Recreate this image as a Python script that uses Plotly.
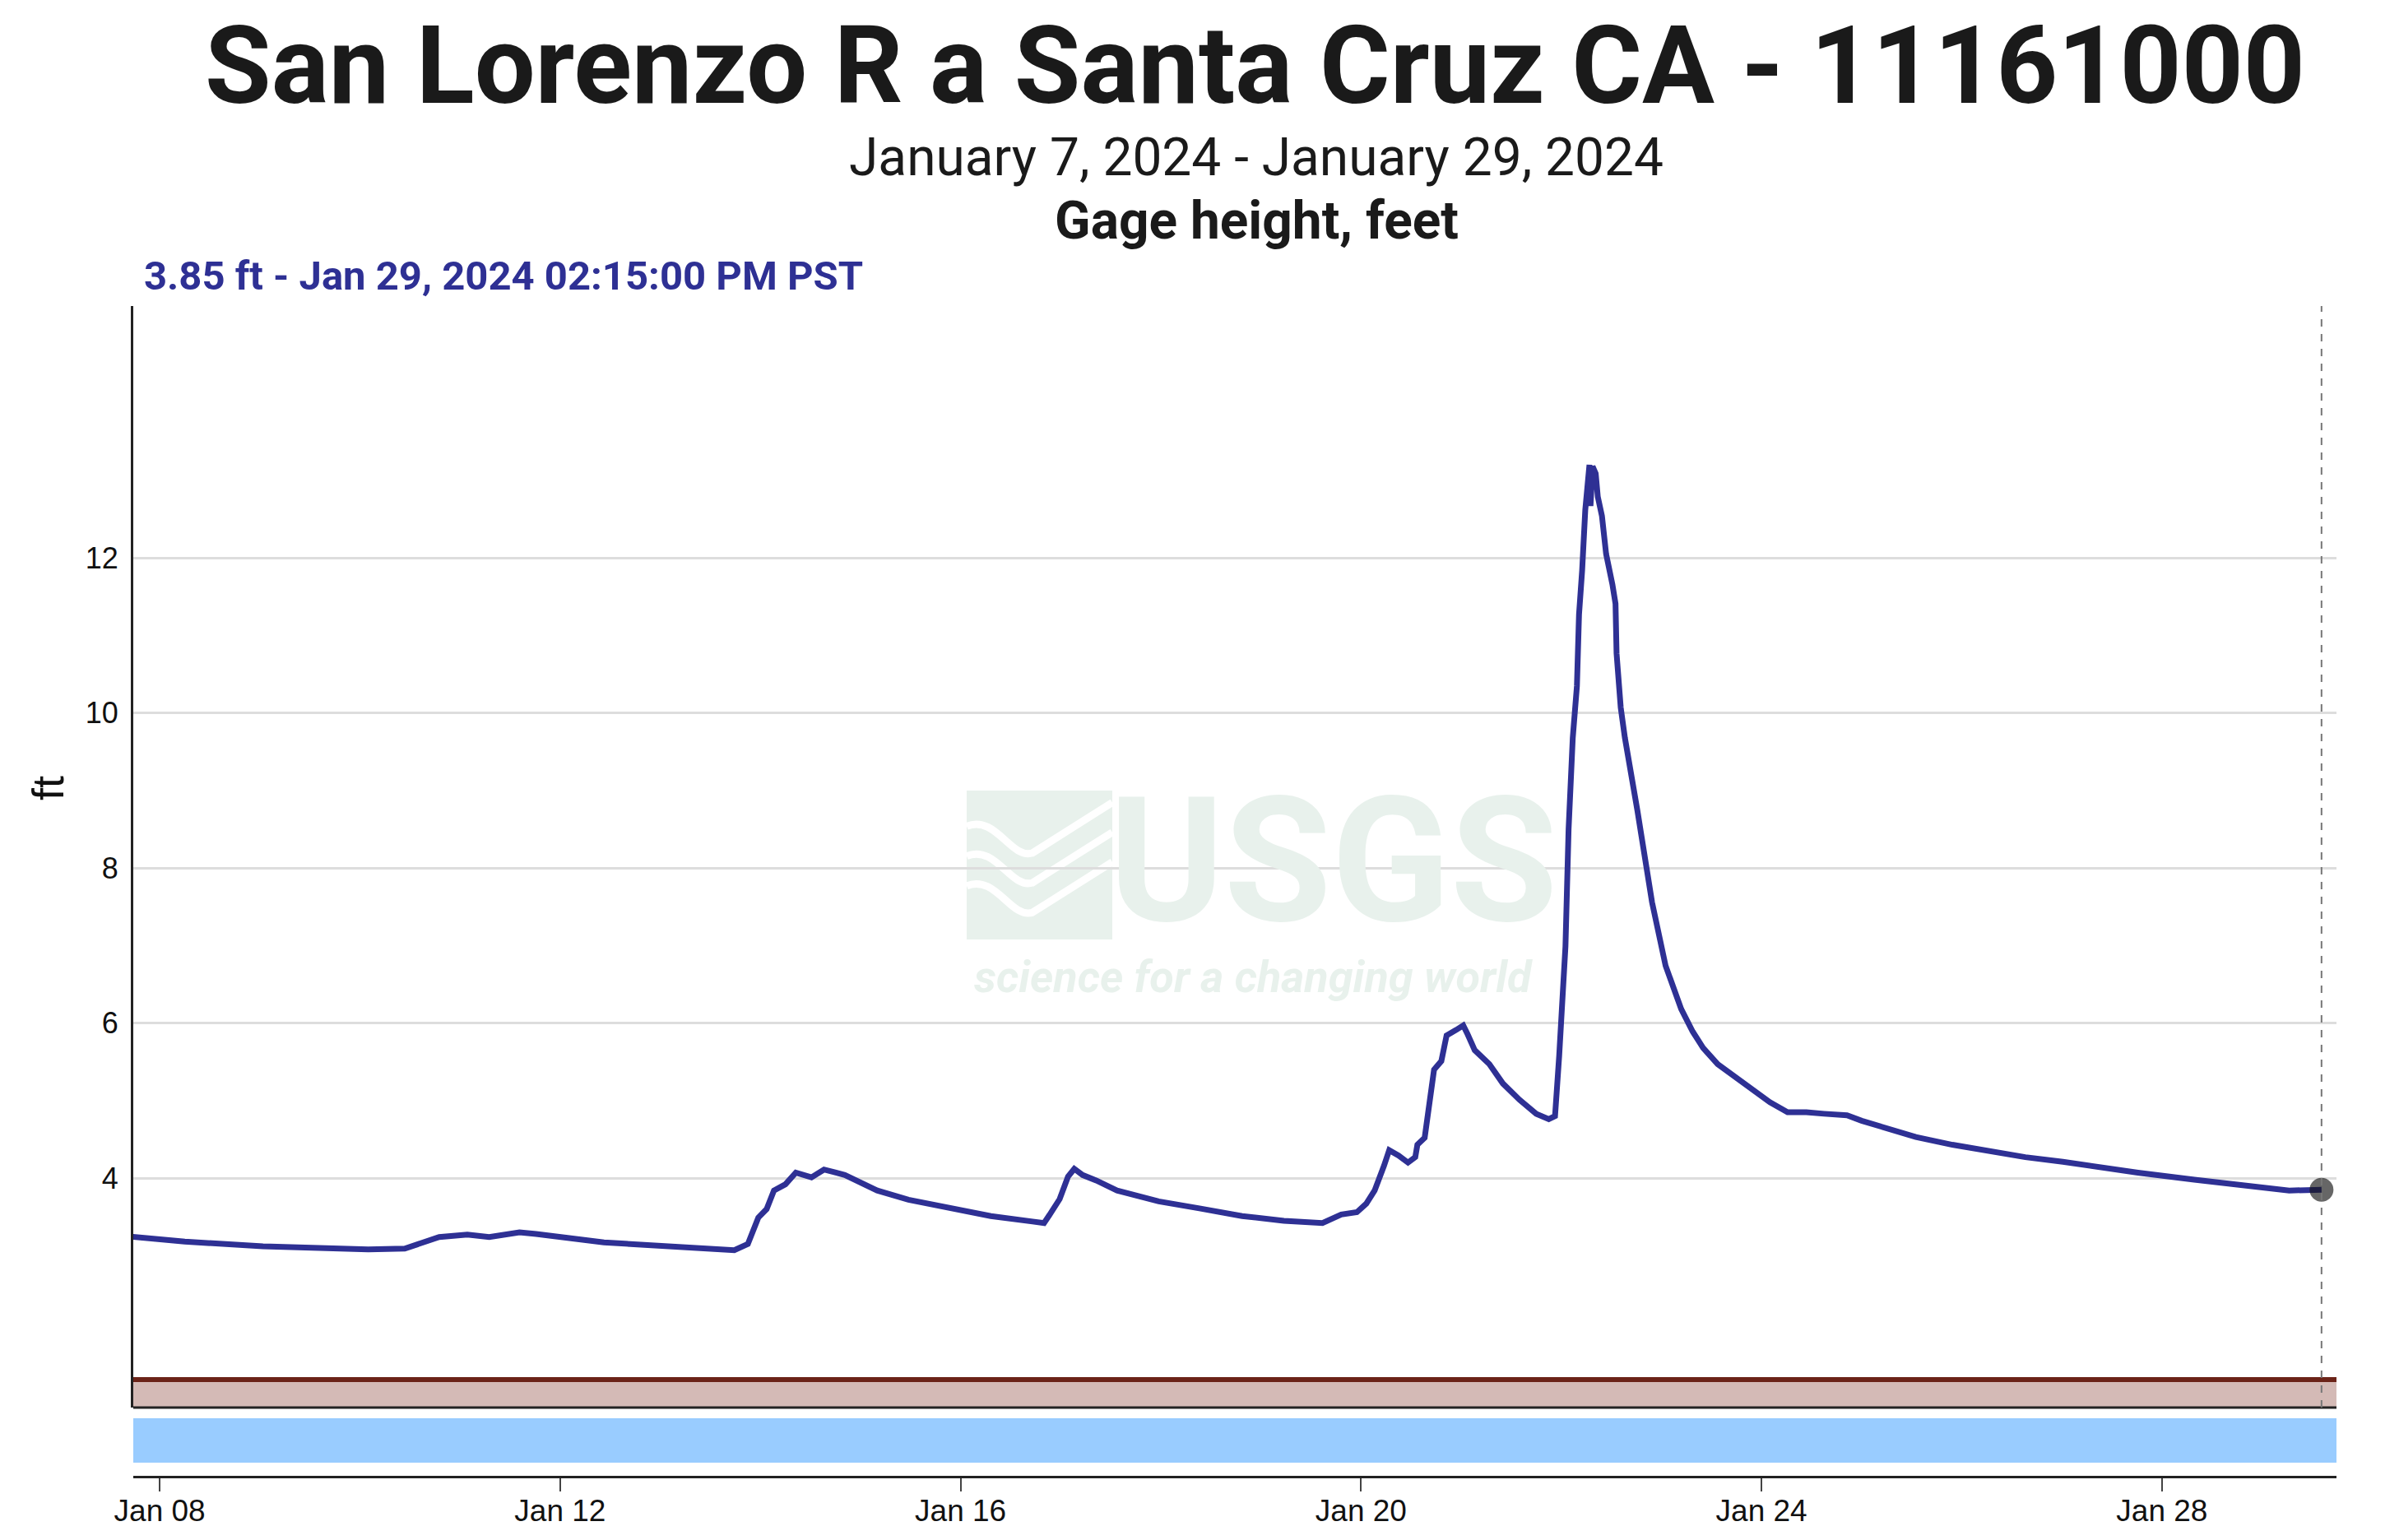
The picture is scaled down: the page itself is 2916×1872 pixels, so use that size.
import plotly.graph_objects as go

# Gage height readings (ft)
times = [
    "2024-01-07 14:15", "2024-01-08 06:00", "2024-01-09 00:45", "2024-01-09 13:15",
    "2024-01-10 02:00", "2024-01-10 10:45", "2024-01-10 15:00", "2024-01-10 19:00",
    "2024-01-11 01:45", "2024-01-11 07:00", "2024-01-11 14:15", "2024-01-11 18:15",
    "2024-01-12 10:30", "2024-01-13 05:30", "2024-01-13 17:45", "2024-01-13 21:00",
    "2024-01-13 23:30", "2024-01-14 01:30", "2024-01-14 03:15", "2024-01-14 06:00",
    "2024-01-14 08:30", "2024-01-14 12:15", "2024-01-14 15:15", "2024-01-14 20:15",
    "2024-01-15 04:00", "2024-01-15 11:30", "2024-01-15 21:00", "2024-01-16 07:15",
    "2024-01-16 17:15", "2024-01-16 20:00", "2024-01-16 21:15", "2024-01-16 23:45",
    "2024-01-17 01:45", "2024-01-17 03:15", "2024-01-17 05:15", "2024-01-17 08:30",
    "2024-01-17 13:30", "2024-01-17 23:30", "2024-01-18 09:15", "2024-01-18 19:30",
    "2024-01-19 05:30", "2024-01-19 14:45", "2024-01-19 19:15", "2024-01-19 23:00",
    "2024-01-20 01:15", "2024-01-20 03:15", "2024-01-20 05:30", "2024-01-20 06:45",
    "2024-01-20 09:00", "2024-01-20 11:15", "2024-01-20 13:00", "2024-01-20 13:30",
    "2024-01-20 15:15", "2024-01-20 16:15", "2024-01-20 17:30", "2024-01-20 19:15",
    "2024-01-20 20:30", "2024-01-20 22:45", "2024-01-21 00:30", "2024-01-21 01:30",
    "2024-01-21 03:15", "2024-01-21 06:45", "2024-01-21 10:00", "2024-01-21 14:00",
    "2024-01-21 18:00", "2024-01-21 21:00", "2024-01-21 22:30", "2024-01-21 23:30",
    "2024-01-22 00:30", "2024-01-22 01:00", "2024-01-22 01:45", "2024-01-22 02:45",
    "2024-01-22 03:45", "2024-01-22 04:15", "2024-01-22 05:00", "2024-01-22 05:45",
    "2024-01-22 06:45", "2024-01-22 07:00", "2024-01-22 07:30", "2024-01-22 08:15",
    "2024-01-22 08:45", "2024-01-22 09:45", "2024-01-22 10:45", "2024-01-22 11:45",
    "2024-01-22 12:15", "2024-01-22 13:00", "2024-01-22 13:15", "2024-01-22 14:15",
    "2024-01-22 15:15", "2024-01-22 18:15", "2024-01-22 21:45", "2024-01-23 01:00",
    "2024-01-23 02:45", "2024-01-23 04:45", "2024-01-23 07:30", "2024-01-23 10:00",
    "2024-01-23 13:30", "2024-01-23 17:00", "2024-01-23 21:30", "2024-01-24 02:00",
    "2024-01-24 06:15", "2024-01-24 10:45", "2024-01-24 15:00", "2024-01-24 20:30",
    "2024-01-25 00:00", "2024-01-25 05:00", "2024-01-25 13:00", "2024-01-25 21:45",
    "2024-01-26 06:45", "2024-01-26 15:15", "2024-01-27 00:15", "2024-01-27 09:00",
    "2024-01-27 18:15", "2024-01-28 07:45", "2024-01-28 20:45", "2024-01-29 06:30",
    "2024-01-29 14:15",
]
gage_ft = [
    3.26, 3.18, 3.12, 3.10,
    3.08, 3.09, 3.17, 3.24,
    3.27, 3.24, 3.30, 3.28,
    3.17, 3.10, 3.07, 3.15,
    3.49, 3.60, 3.84, 3.92,
    4.07, 4.01, 4.11, 4.04,
    3.84, 3.72, 3.61, 3.51,
    3.44, 3.42, 3.52, 3.73,
    4.02, 4.12, 4.04, 3.97,
    3.84, 3.70, 3.61, 3.51,
    3.45, 3.42, 3.53, 3.56,
    3.67, 3.84, 4.16, 4.36,
    4.29, 4.20, 4.27, 4.43,
    4.52, 4.94, 5.40, 5.51,
    5.84, 5.91, 5.97, 5.86,
    5.65, 5.47, 5.22, 5.01,
    4.83, 4.76, 4.80, 5.58,
    6.64, 6.99, 8.50, 9.68,
    10.35, 11.27, 11.84, 12.62,
    13.20, 12.67, 13.18, 13.09,
    12.79, 12.54, 12.05, 11.84,
    11.66, 11.41, 10.77, 10.07,
    9.68, 8.74, 7.56, 6.74,
    6.46, 6.18, 5.89, 5.68,
    5.47, 5.33, 5.15, 4.98,
    4.85, 4.85, 4.83, 4.81,
    4.74, 4.66, 4.53, 4.43,
    4.34, 4.27, 4.21, 4.14,
    4.07, 3.98, 3.90, 3.84,
    3.85,
]
last_time = "2024-01-29 14:15"
last_value = 3.85
y_ticks = [4, 6, 8, 10, 12]

LINE = "#2e3094"
WM = "#e8f1ec"

fig = go.Figure()
fig.add_trace(go.Scatter(x=times, y=gage_ft, mode="lines",
                         line=dict(color=LINE, width=7), hoverinfo="skip"))
fig.add_trace(go.Scatter(x=[last_time], y=[last_value], mode="markers",
                         marker=dict(size=29, color="rgba(20,20,20,0.65)", line=dict(width=0)),
                         hoverinfo="skip"))

# page pixel -> paper helpers (plot area on page: x 162..2840, y 372..1795)
# the page body has an 8px margin, so the figure itself is offset by 8px
def px(x):
    return (x - 162) / 2678

def py(y):
    return (1795 - y) / 1423

shapes = []
# brown band under the graph
shapes.append(dict(type="rect", xref="paper", yref="paper", x0=0, x1=1,
                   y0=py(1711), y1=py(1678), fillcolor="#d4bab6", line_width=0, layer="below"))
shapes.append(dict(type="line", xref="paper", yref="paper", x0=0, x1=1,
                   y0=py(1677), y1=py(1677), line=dict(color="#6b2318", width=6)))
shapes.append(dict(type="line", xref="paper", yref="paper", x0=0, x1=1,
                   y0=py(1711), y1=py(1711), line=dict(color="#222", width=3)))
# blue bar
shapes.append(dict(type="rect", xref="paper", yref="paper", x0=0, x1=1,
                   y0=py(1778), y1=py(1724), fillcolor="#99ccff", line_width=0))
# dashed cursor line at latest value
shapes.append(dict(type="line", xref="x", yref="paper", x0=last_time, x1=last_time,
                   y0=py(1711), y1=1, line=dict(color="#777", width=2, dash="dash")))

# USGS watermark logo box with waves
bx0, bx1, by0, by1 = px(1175), px(1352), py(961), py(1142)
shapes.append(dict(type="rect", xref="paper", yref="paper", x0=bx0, x1=bx1,
                   y0=by1, y1=by0, fillcolor=WM, line_width=0, layer="below"))

def bp(rx, ry):
    return f"{bx0 + rx * (bx1 - bx0):.5f},{by0 - ry * (by0 - by1):.5f}"

for dy in [0.0, 0.2, 0.4]:
    path = (f"M {bp(0, 0.24 + dy)} C {bp(0.2, 0.16 + dy)} {bp(0.3, 0.46 + dy)} "
            f"{bp(0.45, 0.42 + dy)} L {bp(1, 0.08 + dy)}")
    shapes.append(dict(type="path", xref="paper", yref="paper", path=path,
                       line=dict(color="white", width=9), layer="below"))

annotations = [
    dict(text="San Lorenzo R a Santa Cruz CA - 11161000", x=px(1525), y=py(80),
         font=dict(family="Roboto", size=131, color="#1a1a1a", weight="bold")),
    dict(text="January 7, 2024 - January 29, 2024", x=px(1527), y=py(192),
         font=dict(family="Roboto", size=64, color="#1a1a1a")),
    dict(text="Gage height, feet", x=px(1527), y=py(268),
         font=dict(family="Roboto", size=64, color="#1a1a1a", weight="bold")),
    dict(text="3.85 ft - Jan 29, 2024 02:15:00 PM PST", x=px(173), y=py(335), xanchor="left",
         font=dict(family="Roboto", size=49, color=LINE, weight="bold")),
    dict(text="ft", x=px(58), y=py(958), textangle=-90,
         font=dict(family="Liberation Sans", size=54, color="#111")),
    dict(text="USGS", x=px(1620), y=py(1046),
         font=dict(family="Liberation Sans Narrow, Roboto", size=212, color=WM, weight="bold")),
    dict(text="<i>science for a changing world</i>", x=px(1523), y=py(1187),
         font=dict(family="Roboto", size=54, color=WM, weight="bold")),
]
for a in annotations:
    a.update(xref="paper", yref="paper", showarrow=False)
    a.setdefault("xanchor", "center")
    a["yanchor"] = "middle"

fig.update_layout(
    width=2900, height=1856,
    margin=dict(l=154, r=68, t=364, b=69, autoexpand=False),
    paper_bgcolor="white", plot_bgcolor="white",
    showlegend=False,
    shapes=shapes, annotations=annotations,
    xaxis=dict(
        range=["2024-01-07 17:40", "2024-01-29 17:50"],
        tick0="2024-01-08", dtick=4 * 86400000, tickformat="%b %d",
        showgrid=False, zeroline=False,
        showline=True, linecolor="#222", linewidth=3,
        ticks="outside", ticklen=16, tickwidth=2, tickcolor="#444",
        tickfont=dict(family="Liberation Sans", size=37, color="#111"),
        ticklabelstandoff=-8,
        anchor="free", position=0, automargin=False,
    ),
    yaxis=dict(
        domain=[py(1711), 1],
        range=[1.04, 15.25],
        tickvals=y_ticks,
        showgrid=True, gridcolor="#dddddd", gridwidth=3,
        zeroline=False,
        showline=True, linecolor="#222", linewidth=3,
        ticks="", ticklabelstandoff=8, automargin=False,
        tickfont=dict(family="Liberation Sans", size=36, color="#111"),
    ),
)

fig.write_html("out.html")
